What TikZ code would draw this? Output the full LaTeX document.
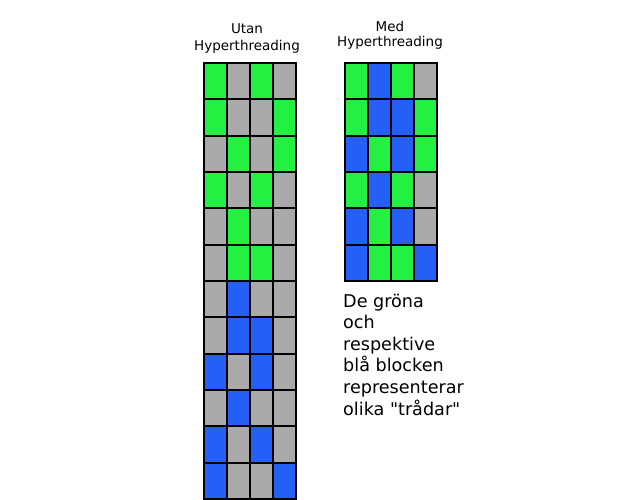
\documentclass[tikz,border=0pt]{standalone}
\usepackage{fontspec}
\newfontfamily\labelfont{DejaVu Sans}
\usepackage{tikz}
\definecolor{colg}{RGB}{36,240,66}
\definecolor{colb}{RGB}{36,96,245}
\definecolor{cols}{RGB}{170,170,170}
\tikzset{
  cellbox/.style  = {draw=black, line width=2pt, inner sep=0pt, anchor=north west,
                     minimum width=23pt, minimum height=36.33pt},
  headtxt/.style  = {anchor=base, align=center, inner sep=0pt,
                     font=\labelfont\fontsize{13.5}{16.7}\selectfont},
  notetxt/.style  = {anchor=base west, align=left, inner sep=0pt,
                     font=\labelfont\fontsize{17.6}{21.6}\selectfont}
}

\begin{document}
\begin{tikzpicture}[x=1pt,y=-1pt]
  \useasboundingbox (0,0) rectangle (640,500);
  % utan hyperthreading: 12 rows
  \foreach \row [count=\r from 0] in {{g,s,g,s},{g,s,s,g},{s,g,s,g},{g,s,g,s},
      {s,g,s,s},{s,g,g,s},{s,b,s,s},{s,b,b,s},{b,s,b,s},{s,b,s,s},{b,s,b,s},{b,s,s,b}}
    { \foreach \c [count=\k from 0] in \row
        { \node[cellbox,fill=col\c] (L-\r-\k) at (203+23*\k,62+36.33*\r) {}; } }
  % med hyperthreading: 6 rows
  \foreach \row [count=\r from 0] in {{g,b,g,s},{g,b,b,g},{b,g,b,g},{g,b,g,s},
      {b,g,b,s},{b,g,g,b}}
    { \foreach \c [count=\k from 0] in \row
        { \node[cellbox,fill=col\c] (R-\r-\k) at (344+23*\k,62+36.33*\r) {}; } }
  \node[headtxt] (utan) at (247,50.7) {Utan\\Hyperthreading};
  \node[headtxt,font=\labelfont\fontsize{13.5}{15.2}\selectfont] (med) at (390,46.7)
        {Med\\Hyperthreading};
  \node[notetxt] (note) at (343,415)
        {De gröna\\och\\respektive\\blå blocken\\representerar\\olika "trådar"};
\end{tikzpicture}
\end{document}
